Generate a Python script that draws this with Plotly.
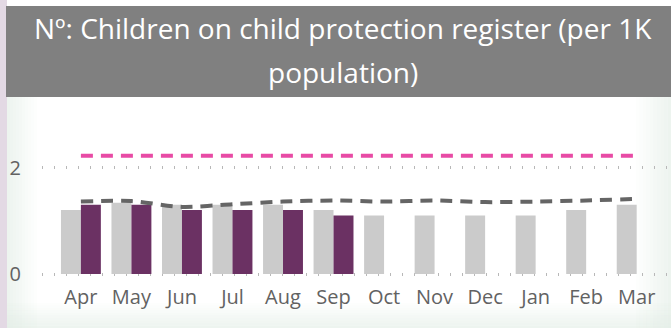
import plotly.graph_objects as go

# Monthly figures, children on the child protection register per 1K population
months = ["Apr", "May", "Jun", "Jul", "Aug", "Sep", "Oct", "Nov", "Dec", "Jan", "Feb", "Mar"]
previous_year = [1.2, 1.34, 1.3, 1.3, 1.3, 1.2, 1.1, 1.1, 1.1, 1.1, 1.2, 1.3]
current_year = [1.3, 1.3, 1.2, 1.2, 1.2, 1.1, None, None, None, None, None, None]
comparator = [1.36, 1.37, 1.26, 1.31, 1.36, 1.38, 1.36, 1.38, 1.35, 1.36, 1.38, 1.41]
target = [2.22] * 12
y_ticks = [0, 2]
title_lines = ["Nº: Children on child protection register (per 1K", "population)"]

W, H = 671, 328
L, R, T, B = 42, 4, 120, 45  # plot-area margins in pixels
pw, ph = W - L - R, H - T - B


def px(x):
    return (x - L) / pw


def py(y):
    return (H - B - y) / ph


fig = go.Figure()
fig.add_trace(go.Bar(x=months, y=previous_year, marker_color="#cbcbcb", marker_line_width=0, hoverinfo="skip"))
fig.add_trace(go.Bar(x=months, y=current_year, marker_color="#6b3163", marker_line_width=0, hoverinfo="skip"))
fig.add_trace(go.Scatter(x=months, y=comparator, mode="lines",
                         line=dict(color="#656565", width=4, dash="12px,8px", shape="spline", smoothing=0.8),
                         hoverinfo="skip"))
fig.add_trace(go.Scatter(x=months, y=target, mode="lines",
                         line=dict(color="#e84ba5", width=4, dash="12px,8px"), hoverinfo="skip"))

shapes = []
# soft green glow along the edges of the card
steps = 10
for i in range(steps):
    a = 0.55 * (1 - i / steps)
    c = f"rgba(222,235,226,{a:.3f})"
    shapes.append(dict(type="rect", xref="paper", yref="paper", layer="below", line_width=0,
                       x0=px(7 + i * 3), x1=px(7 + (i + 1) * 3), y0=py(328), y1=py(96), fillcolor=c))
    shapes.append(dict(type="rect", xref="paper", yref="paper", layer="below", line_width=0,
                       x0=px(671 - (i + 1) * 3.5), x1=px(671 - i * 3.5), y0=py(328), y1=py(96), fillcolor=c))
    shapes.append(dict(type="rect", xref="paper", yref="paper", layer="below", line_width=0,
                       x0=px(7), x1=px(671), y0=py(328 - i * 2.5), y1=py(328 - (i + 1) * 2.5), fillcolor=c))
# lilac strip at the left edge
shapes.append(dict(type="rect", xref="paper", yref="paper", layer="below", line_width=0,
                   x0=px(0), x1=px(7), y0=py(328), y1=py(0), fillcolor="#e3d9e4"))
# grey title band
shapes.append(dict(type="rect", xref="paper", yref="paper", layer="below", line_width=0,
                   x0=px(6), x1=px(671), y0=py(97), y1=py(6), fillcolor="#808080"))

# two title lines, spaced like the card header
annotations = []
for text, yc in zip(title_lines, [28, 72]):
    annotations.append(dict(text=text, xref="paper", yref="paper", x=px(343), y=py(yc),
                            xanchor="center", yanchor="middle", showarrow=False,
                            font=dict(family="Open Sans", size=28, color="white")))

fig.update_layout(
    width=W, height=H,
    margin=dict(l=L, r=R, t=T, b=B),
    paper_bgcolor="white", plot_bgcolor="rgba(0,0,0,0)",
    barmode="group", bargap=0.21, bargroupgap=0,
    showlegend=False,
    shapes=shapes,
    annotations=annotations,
    font=dict(family="Open Sans", color="#666666"),
)
fig.update_xaxes(range=[-0.77, 11.6], showgrid=False, zeroline=False, showline=False,
                 ticks="", tickfont=dict(size=20, color="#626262"))
fig.update_yaxes(range=[(274 - (H - B)) / 53.25, (274 - T) / 53.25], tickvals=y_ticks,
                 showgrid=True, gridcolor="#b8b8b8", gridwidth=3, griddash="1px,11px",
                 zeroline=False, showline=False, ticks="", ticklabelstandoff=20,
                 tickfont=dict(size=20, color="#626262"))

fig.write_html("out.html")
